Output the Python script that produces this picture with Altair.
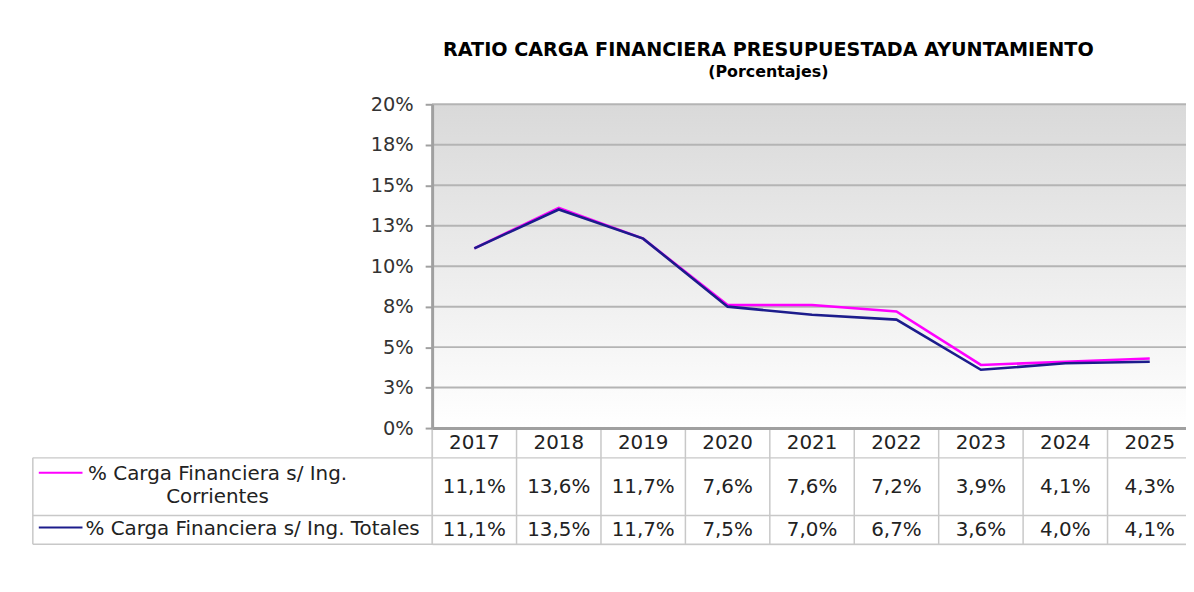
import altair as alt
import pandas as pd

# ---------------- data ----------------
years = ["2017", "2018", "2019", "2020", "2021", "2022", "2023", "2024", "2025"]
pct_corrientes = [11.1, 13.6, 11.7, 7.6, 7.6, 7.2, 3.9, 4.1, 4.3]
pct_totales = [11.1, 13.5, 11.7, 7.5, 7.0, 6.7, 3.6, 4.0, 4.1]
series_names = ["% Carga Financiera s/ Ing. Corrientes", "% Carga Financiera s/ Ing. Totales"]
series_table_labels = ["% Carga Financiera s/ Ing.\nCorrientes", "% Carga Financiera s/ Ing. Totales"]
series_colors = ["#ff00ff", "#1c1c8c"]
y_ticks = [0, 2.5, 5, 7.5, 10, 12.5, 15, 17.5, 20]
title_text = "RATIO CARGA FINANCIERA PRESUPUESTADA AYUNTAMIENTO"
subtitle_text = "(Porcentajes)"

rows = []
for name, vals in zip(series_names, [pct_corrientes, pct_totales]):
    for yr, v in zip(years, vals):
        rows.append({"year": yr, "serie": name, "valor": v})
df = pd.DataFrame(rows)

# ---------------- layout ----------------
FONT = "DejaVu Sans"
FS = 20
BAND = 85
XMAX = BAND * len(years)
PLOT_H = 326
HEAD_B = 356          # bottom of header (years) row
ROW1_B = 414          # bottom of first series row
TAB_B = 443           # bottom of table
TAB_L = -402          # left edge of table
ROW_Y = [385, 429]    # centre of each series row
LAB_Y = [372, 428]    # first text line of each row label
KEY_Y = [371, 426]
GRID_C = "#b4b4b4"
AXIS_C = "#a0a0a0"
TAB_C = "#c8c8c8"

x_scale = alt.Scale(type="band", domain=years, range=[0, XMAX], paddingInner=0, paddingOuter=0)
x_axis = alt.Axis(title=None, ticks=False, grid=False, domainColor=AXIS_C, domainWidth=3,
                  labelFont=FONT, labelFontSize=FS, labelColor="#222222", labelAngle=0,
                  labelPadding=15, labelBaseline="middle", labelOverlap=False, zindex=1,
                  offset=-(TAB_B - PLOT_H))
y_scale = alt.Scale(domain=[0, 20], range=[PLOT_H, 0], nice=False)
y_axis = alt.Axis(title=None, values=y_ticks, labelExpr="format(datum.value, '.0f') + '%'",
                  grid=False, domainColor=AXIS_C, domainWidth=3, tickColor=AXIS_C, tickWidth=2,
                  tickSize=7, labelFont=FONT, labelFontSize=19.5, labelColor="#333333",
                  labelPadding=12, labelOverlap=False, zindex=1)
color_scale = alt.Scale(domain=series_names, range=series_colors)

one = alt.Data(values=[{}])

gradient = alt.Gradient(
    gradient="linear",
    stops=[alt.GradientStop(color="#d9d9d9", offset=0), alt.GradientStop(color="#ffffff", offset=1)],
    x1=0, x2=0, y1=0, y2=1,
)

bg = alt.Chart(one).mark_rect(fill=gradient).encode(
    x=alt.value(0), x2=alt.value(XMAX),
    y=alt.YDatum(20, type="quantitative", scale=y_scale, axis=y_axis),
    y2=alt.Y2Datum(0),
)

grid = alt.Chart(pd.DataFrame({"t": y_ticks})).mark_rule(color=GRID_C, strokeWidth=2).encode(
    y=alt.Y("t:Q", scale=y_scale, axis=y_axis),
    x=alt.value(0), x2=alt.value(XMAX),
)

layers = [bg, grid]

for name in series_names:
    layers.append(
        alt.Chart(df).transform_filter(alt.datum.serie == name).mark_line(strokeWidth=2.6).encode(
            x=alt.X("year:O", scale=x_scale, axis=x_axis),
            y=alt.Y("valor:Q", scale=y_scale, axis=y_axis),
            color=alt.Color("serie:N", scale=color_scale, legend=None),
        )
    )

# table grid
layers.append(
    alt.Chart(pd.DataFrame({"year": years})).mark_rule(color=TAB_C, strokeWidth=1.5).encode(
        x=alt.X("year:O", bandPosition=0, scale=x_scale, axis=x_axis),
        y=alt.value(PLOT_H), y2=alt.value(TAB_B),
    )
)
for yy in [HEAD_B, ROW1_B, TAB_B]:
    layers.append(
        alt.Chart(one).mark_rule(color=TAB_C, strokeWidth=1.5).encode(
            x=alt.value(TAB_L), x2=alt.value(XMAX), y=alt.value(yy)
        )
    )
layers.append(
    alt.Chart(one).mark_rule(color=TAB_C, strokeWidth=1.5).encode(
        x=alt.value(TAB_L), y=alt.value(HEAD_B), y2=alt.value(TAB_B)
    )
)

# table values, keys and labels
for i, name in enumerate(series_names):
    layers.append(
        alt.Chart(df).transform_filter(alt.datum.serie == name).transform_calculate(
            lbl="replace(format(datum.valor, '.1f'), '.', ',') + '%'"
        ).mark_text(font=FONT, fontSize=FS, color="#222222").encode(
            x=alt.X("year:O", scale=x_scale, axis=x_axis),
            y=alt.value(ROW_Y[i]),
            text="lbl:N",
        )
    )
    layers.append(
        alt.Chart(alt.Data(values=[{"serie": name}])).mark_rule(strokeWidth=2).encode(
            x=alt.value(-396), x2=alt.value(-352), y=alt.value(KEY_Y[i]),
            color=alt.Color("serie:N", scale=color_scale, legend=None),
        )
    )
    if i == 0:
        lab = alt.Chart(alt.Data(values=[{"lab": series_table_labels[i]}])).mark_text(
            font=FONT, fontSize=FS, color="#222222", align="center", baseline="middle",
            lineBreak="\n", lineHeight=23,
        ).encode(x=alt.value(-216), y=alt.value(LAB_Y[i]), text="lab:N")
    else:
        lab = alt.Chart(alt.Data(values=[{"lab": series_table_labels[i]}])).mark_text(
            font=FONT, fontSize=FS, color="#222222", align="left", baseline="middle",
        ).encode(x=alt.value(-349), y=alt.value(LAB_Y[i]), text="lab:N")
    layers.append(lab)

chart = alt.layer(*layers).properties(
    width=759,
    height=TAB_B,
    autosize=alt.AutoSizeParams(type="none"),
    padding={"left": 427, "top": 95, "right": 0, "bottom": 30},
    title=alt.Title(
        title_text, subtitle=subtitle_text, font=FONT, fontSize=19.3, fontWeight="bold",
        color="#000000", subtitleFont=FONT, subtitleFontSize=16, subtitleFontWeight="bold",
        subtitleColor="#000000", anchor="middle", frame="group", dx=-41, offset=14,
        subtitlePadding=4,
    ),
).configure_view(stroke=None).configure(background="#ffffff")

chart.save("out.html", embed_options={"renderer": "svg", "actions": False})
